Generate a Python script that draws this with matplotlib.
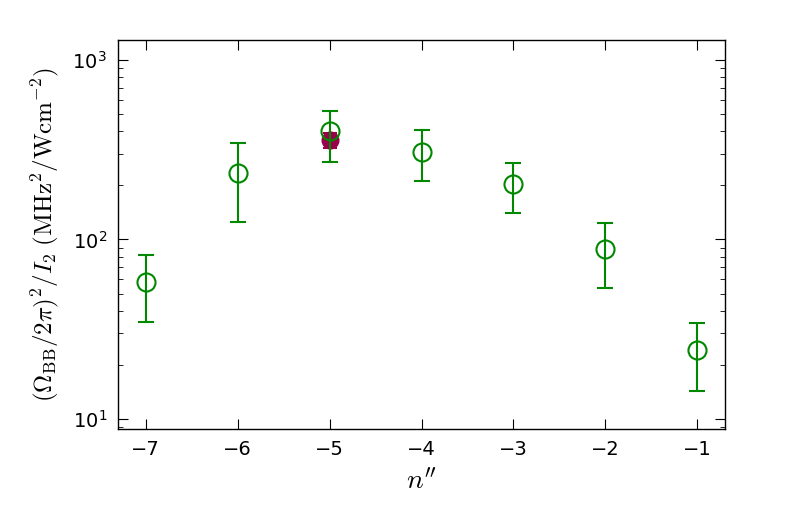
import matplotlib
matplotlib.use('Agg')
import matplotlib.pyplot as plt

plt.rcParams['mathtext.fontset'] = 'cm'

# Green points (open circles)
n_vals = [-7, -6, -5, -4, -3, -2, -1]
y_vals = [58, 234, 402, 307, 204, 88.5, 24.2]
y_hi = [82, 345, 520, 407, 267, 124, 34.3]
y_lo = [34.7, 125, 270, 212, 141, 53.7, 14.3]

# Purple point (filled)
n_pur = [-5]
y_pur = [358]
y_pur_hi = [390]
y_pur_lo = [325]


def main():
    fig = plt.figure(figsize=(7.89, 5.05), dpi=100)
    ax = fig.add_axes([118 / 789, 1 - 429 / 505, (725 - 118) / 789, (429 - 40) / 505])

    err_p = [[y - lo for y, lo in zip(y_pur, y_pur_lo)],
             [hi - y for y, hi in zip(y_pur, y_pur_hi)]]
    ax.errorbar(n_pur, y_pur, yerr=err_p, fmt='o', color='#99004c',
                mec='#99004c', ms=12, elinewidth=1.5, capsize=5,
                capthick=1.5, zorder=2)

    err = [[y - lo for y, lo in zip(y_vals, y_lo)],
           [hi - y for y, hi in zip(y_vals, y_hi)]]
    ax.errorbar(n_vals, y_vals, yerr=err, fmt='o', mfc='none', mec='#008800',
                mew=1.5, color='#008800', ms=13, elinewidth=1.5, capsize=6,
                capthick=1.5, zorder=3)

    ax.set_yscale('log')
    ax.set_xlim(-7.3, -0.7)
    ax.set_ylim(8.8, 1290)
    ax.set_xticks([-7, -6, -5, -4, -3, -2, -1])
    ax.set_xticklabels(['\u22127', '\u22126', '\u22125', '\u22124',
                        '\u22123', '\u22122', '\u22121'])
    ax.tick_params(which='both', direction='in', top=True, right=True,
                   labelsize=14, pad=8)
    ax.tick_params(which='major', length=7)
    ax.tick_params(which='minor', length=3.5)
    for sp in ax.spines.values():
        sp.set_linewidth(1.0)

    ax.set_xlabel(r"$n''$", fontsize=20, labelpad=6)
    ax.set_ylabel(r"$(\Omega_{\rm BB}/2\pi)^2/I_2\ ({\rm MHz}^2/{\rm W cm}^{-2})$",
                  fontsize=18, labelpad=8)

    fig.savefig('out.png', dpi=100)


if __name__ == '__main__':
    main()
